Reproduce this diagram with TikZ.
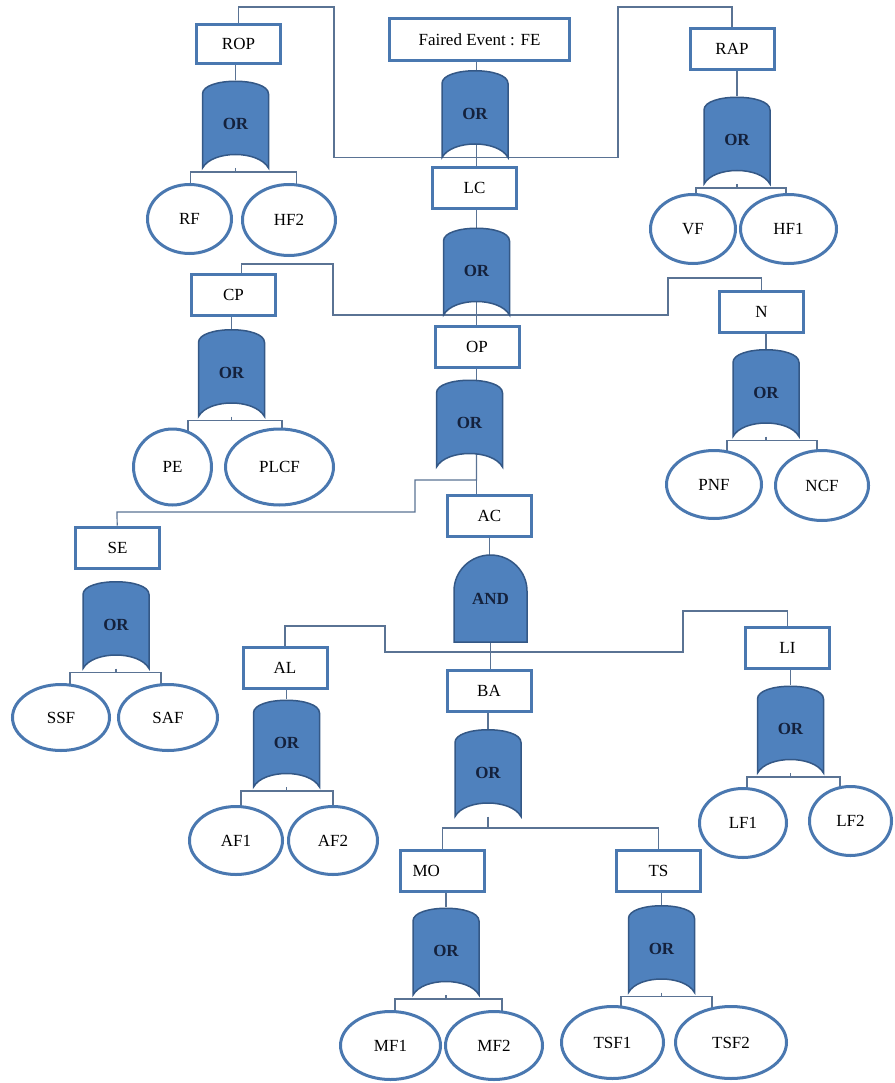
\documentclass[tikz,border=0pt]{standalone}
\usepackage{fontspec}
\setmainfont{Liberation Serif}
\usetikzlibrary{shapes.geometric,calc}
\pgfdeclarelayer{back}
\pgfdeclarelayer{mid}
\pgfsetlayers{back,mid,main}
\definecolor{boxline}{RGB}{74,120,176}
\definecolor{gatefill}{RGB}{79,129,189}
\definecolor{gateline}{RGB}{52,88,134}
\definecolor{gatetext}{RGB}{20,33,60}
\definecolor{wirecol}{RGB}{90,115,148}

% OR gate: rounded top, hollow bottom
\newcommand{\orgate}[2]{%
  \node[gate] (#1) at (#2) {OR};
  \begin{pgfonlayer}{mid}
    \filldraw[gatebody] (#1.south west) -- ($(#1.north west)+(0,14)$)
      .. controls ($(#1.north west)+(0,-3)$) and ($(#1.north east)+(0,-3)$) .. ($(#1.north east)+(0,14)$)
      -- (#1.south east)
      .. controls ($(#1.south east)+(-10,-18)$) and ($(#1.south west)+(10,-18)$) .. cycle;
  \end{pgfonlayer}}
% AND gate: dome top, flat bottom
\newcommand{\andgate}[2]{%
  \node[gate, minimum width=73pt, minimum height=87pt] (#1) at (#2) {AND};
  \begin{pgfonlayer}{mid}
    \filldraw[gatebody] (#1.south west) -- ($(#1.north west)+(0,36)$)
      .. controls ($(#1.north west)+(0,16)$) and ($(#1.north)+(-20,0)$) .. (#1.north)
      .. controls ($(#1.north)+(20,0)$) and ($(#1.north east)+(0,16)$) .. ($(#1.north east)+(0,36)$)
      -- (#1.south east) -- cycle;
  \end{pgfonlayer}}
% gate to its two inputs
\newcommand{\fork}[5]{%
  \coordinate (#1-l) at ($(#1.south)+(#4,4)$);
  \coordinate (#1-r) at ($(#1.south)+(#5,4)$);
  \draw[wire] (#1) -- (#1 |- #1-l);
  \draw[wire] (#1-l |- #2) -- (#1-l) -- (#1-r) -- (#1-r |- #3);}

\begin{document}
\begin{tikzpicture}[x=1pt, y=-1pt, font=\fontsize{17}{19}\selectfont,
    event/.style={rectangle, draw=boxline, line width=3pt, fill=white, minimum width=84pt, minimum height=41pt, inner sep=2pt},
    fault/.style 2 args={ellipse, draw=boxline, line width=3pt, fill=white, minimum width=#1pt, minimum height=#2pt, inner sep=0pt},
    gate/.style={rectangle, minimum width=66pt, minimum height=88pt, inner sep=0pt, outer sep=0pt, text=gatetext, font=\fontsize{17}{19}\selectfont\bfseries},
    gatebody/.style={fill=gatefill, draw=gateline, line width=1.5pt},
    wire/.style={draw=wirecol, line width=1.2pt}]
    \useasboundingbox (0,0) rectangle (894,1083);

    % events
    \node[event, minimum width=180pt, minimum height=42pt] (fe) at (479.5,39.5) {Faired Event : FE};
    \node[event, minimum height=39pt] (rop) at (238.5,44)  {ROP};
    \node[event] (rap) at (732,49)      {RAP};
    \node[event] (lc)  at (474.5,188)   {LC};
    \node[event] (cp)  at (233.5,295)   {CP};
    \node[event] (op)  at (477,346.5)   {OP};
    \node[event] (n)   at (761.5,311.5) {N};
    \node[event] (ac)  at (489.5,515.5) {AC};
    \node[event] (se)  at (117.5,547.5) {SE};
    \node[event] (al)  at (285,667.5)   {AL};
    \node[event] (ba)  at (489,691)     {BA};
    \node[event] (li)  at (787.5,647.5) {LI};
    \node[event, text width=60pt, align=left] (mo) at (442.5,871) {MO};
    \node[event] (ts)  at (658.5,870.5) {TS};

    % gates
    \orgate{gFe}{475,113.5}
    \orgate{gRop}{235.5,124}
    \orgate{gRap}{737,140}
    \orgate{gLc}{476.5,271}
    \orgate{gCp}{231.5,372.5}
    \orgate{gOp}{469.5,423}
    \orgate{gN}{766,392.5}
    \orgate{gSe}{116,624.5}
    \andgate{gAnd}{490.5,598.5}
    \orgate{gAl}{286.5,743}
    \orgate{gBa}{488,772.5}
    \orgate{gLi}{790.5,729}
    \orgate{gMo}{446,951}
    \orgate{gTs}{661.5,948.5}

    % basic faults
    \node[fault={84}{69}]  (rf)   at (189.5,219)   {RF};
    \node[fault={93}{71}]  (hf2)  at (289,220)     {HF2};
    \node[fault={85}{69}]  (vf)   at (693,229)     {VF};
    \node[fault={96}{69}]  (hf1)  at (788.5,229)   {HF1};
    \node[fault={78}{76}]  (pe)   at (172.5,467)   {PE};
    \node[fault={108}{76}] (plcf) at (279.5,467)   {PLCF};
    \node[fault={95}{68}]  (pnf)  at (714,484.5)   {PNF};
    \node[fault={93}{70}]  (ncf)  at (822,485.5)   {NCF};
    \node[fault={97}{66}]  (ssf)  at (61,717.5)    {SSF};
    \node[fault={99}{66}]  (saf)  at (168,717.5)   {SAF};
    \node[fault={93}{68}]  (af1)  at (236,840.5)   {AF1};
    \node[fault={89}{68}]  (af2)  at (333,840.5)   {AF2};
    \node[fault={87}{69}]  (lf1)  at (743,823)     {LF1};
    \node[fault={82}{69}]  (lf2)  at (850.5,821)   {LF2};
    \node[fault={100}{68}] (mf1)  at (390.5,1045.5) {MF1};
    \node[fault={97}{68}]  (mf2)  at (494,1045.5)  {MF2};
    \node[fault={102}{72}] (tsf1) at (612.5,1042.5) {TSF1};
    \node[fault={111}{72}] (tsf2) at (731,1042.5)  {TSF2};

    \begin{pgfonlayer}{back}
    % spine
    \draw[wire] (gLc |- fe) -- (gLc |- ac);
    \draw[wire] (rop) |- (334,7) |- (gFe.south) -| (618,7) -| (rap);
    \draw[wire] ([xshift=8pt]cp.north) |- (333,264) |- (gLc.south) -| (668,278) -| (n);
    \draw[wire] (gLc |- gOp) |- (415,480) |- (117,512) -- (se);
    \draw[wire] (ac) -- (ac |- gAnd);
    \draw[wire] (gAnd) -- (gAnd |- ba);
    \draw[wire] (al) |- (385,626) |- (490,652) -| (683,611) -| (li);
    \draw[wire] (mo) |- (488,828) -| (ts);
    \draw[wire] (gBa) -- (488,828);
    % boxes to gates
    \draw[wire] (gRop |- rop) -- (gRop);
    \draw[wire] (gRap |- rap) -- (gRap);
    \draw[wire] (gCp |- cp) -- (gCp);
    \draw[wire] (gN |- n) -- (gN);
    \draw[wire] (gAl |- al) -- (gAl);
    \draw[wire] (gBa |- ba) -- (gBa);
    \draw[wire] (gLi |- li) -- (gLi);
    \draw[wire] (gMo |- mo) -- (gMo);
    \draw[wire] (gTs |- ts) -- (gTs);
    % gates to faults
    \fork{gRop}{rf}{hf2}{-45}{61}
    \fork{gRap}{vf}{hf1}{-41}{49}
    \fork{gCp}{pe}{plcf}{-43.5}{50.5}
    \fork{gN}{pnf}{ncf}{-39}{51}
    \fork{gSe}{ssf}{saf}{-46}{45}
    \fork{gAl}{af1}{af2}{-45.5}{46.5}
    \fork{gLi}{lf1}{lf2}{-43.5}{49.5}
    \fork{gMo}{mf1}{mf2}{-51}{56}
    \fork{gTs}{tsf1}{tsf2}{-40.5}{50.5}
    \end{pgfonlayer}
\end{tikzpicture}
\end{document}
